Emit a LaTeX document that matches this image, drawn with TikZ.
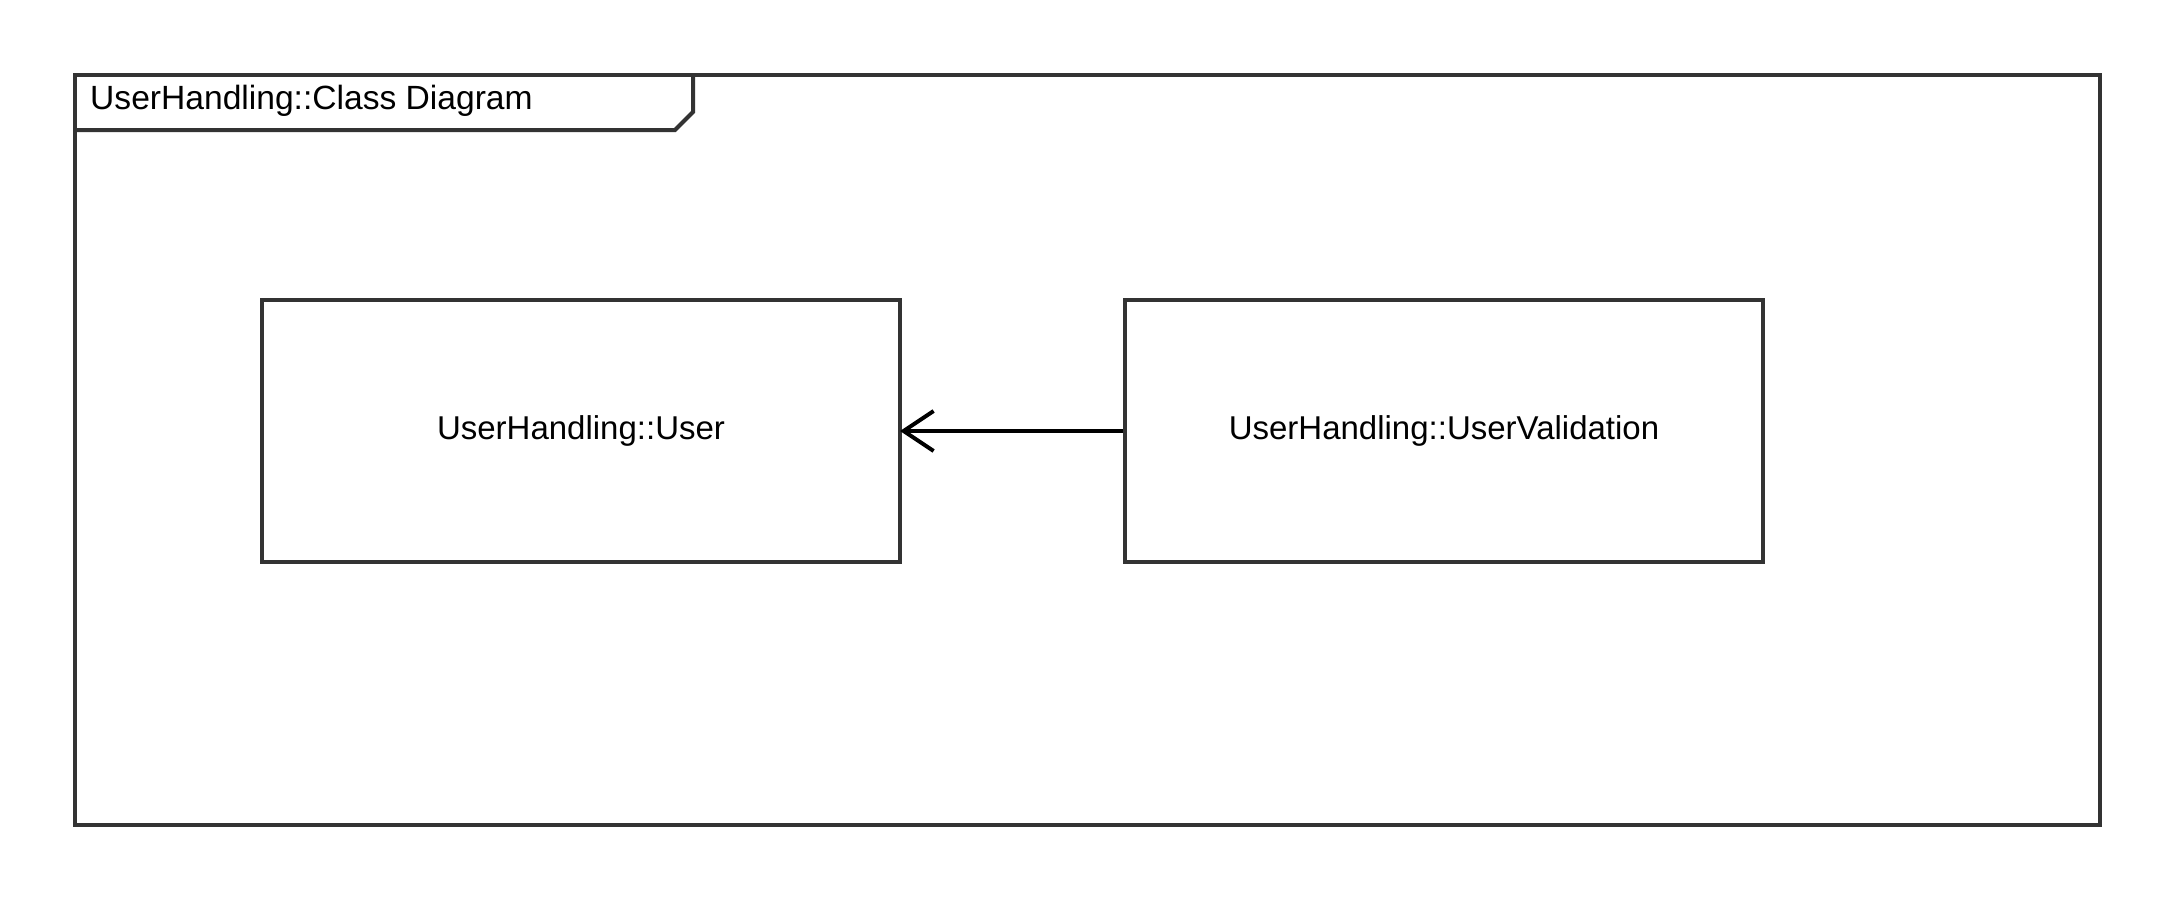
\documentclass[tikz,border=0pt]{standalone}
\usepackage{fontspec}
\setmainfont{Liberation Sans}
\usetikzlibrary{arrows.meta}
\definecolor{frm}{HTML}{333333}
\tikzset{
  classbox/.style={draw=frm, line width=4pt, minimum width=638pt, minimum height=262pt, inner sep=0pt, font=\fontsize{33}{40}\selectfont},
  assoc/.style={draw=black, line width=4pt, shorten >=-2pt, -{Straight Barb[length=30pt, width=40pt, line width=4pt]}},
}
\begin{document}
\begin{tikzpicture}[x=1pt,y=1pt]
\useasboundingbox (0,0) rectangle (2175,-900);
\fill[white] (0,0) rectangle (2175,-900);
% frame
\draw[frm, line width=4pt] (75,-75) rectangle (2100,-825);
\draw[frm, line width=4pt] (693,-75) -- (693,-112) -- (675,-130) -- (75,-130);
\node[anchor=west, inner sep=0pt, font=\fontsize{33.6}{40}\selectfont] (title) at (90,-101) {UserHandling::Class Diagram};
% classes
\node[classbox] (user) at (581,-431) {\raisebox{6pt}{UserHandling::User}};
\node[classbox] (val) at (1444,-431) {\raisebox{6pt}{UserHandling::UserValidation}};
\draw[assoc] (val.west) -- (user.east);
\end{tikzpicture}
\end{document}
